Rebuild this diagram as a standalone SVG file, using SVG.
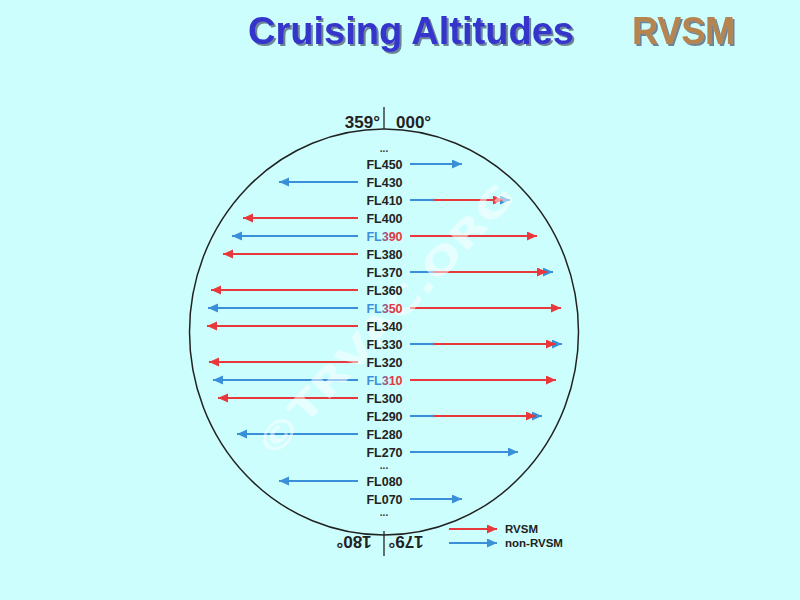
<svg xmlns="http://www.w3.org/2000/svg" width="800" height="600" viewBox="0 0 800 600">
<defs>
<style>
.fl{font-family:"Liberation Sans",Arial,sans-serif;font-weight:bold;font-size:12.5px;fill:#222;text-anchor:middle}
.dots{font-family:"Liberation Sans",Arial,sans-serif;font-weight:bold;font-size:10px;fill:#333;text-anchor:middle}
.deg{font-family:"Liberation Sans",Arial,sans-serif;font-weight:bold;font-size:17px;fill:#222}
.leg{font-family:"Liberation Sans",Arial,sans-serif;font-weight:bold;font-size:11.5px;fill:#222}
.r{stroke:#e8383c;stroke-width:2;fill:none;marker-end:url(#ahr)}
.b{stroke:#3a90d8;stroke-width:2;fill:none;marker-end:url(#ahb)}
.title{font-family:"Liberation Sans",Arial,sans-serif;font-weight:bold;font-size:38px;filter:url(#shadow)}
</style>
<filter id="shadow" x="-10%" y="-20%" width="120%" height="150%">
<feDropShadow dx="2" dy="2" stdDeviation="0.6" flood-color="#1a1a40" flood-opacity="0.55"/>
</filter>
<marker id="ahr" markerUnits="userSpaceOnUse" markerWidth="11" markerHeight="10" refX="10" refY="4.5" orient="auto"><path d="M0,0 L10,4.5 L0,9 Z" fill="#e8383c"/></marker>
<marker id="ahb" markerUnits="userSpaceOnUse" markerWidth="11" markerHeight="10" refX="10" refY="4.5" orient="auto"><path d="M0,0 L10,4.5 L0,9 Z" fill="#3a90d8"/></marker>
<linearGradient id="mix" x1="0" y1="0" x2="1" y2="0">
<stop offset="0" stop-color="#3a90d8"/><stop offset="0.38" stop-color="#3a90d8"/><stop offset="0.62" stop-color="#d8384c"/><stop offset="1" stop-color="#e8383c"/>
</linearGradient>
</defs>
<rect width="800" height="600" fill="#cdfefe"/>
<g id="title">
<text class="title" x="248" y="44" fill="#3434cc" textLength="326" lengthAdjust="spacingAndGlyphs">Cruising Altitudes</text>
<text class="title" x="632" y="44" fill="#b5844f" font-size="36" textLength="103" lengthAdjust="spacingAndGlyphs">RVSM</text>
</g>
<g id="compass">
<ellipse cx="384" cy="332" rx="194.5" ry="203" fill="none" stroke="#222" stroke-width="1.5"/>
<line x1="384" y1="107" x2="384" y2="129" stroke="#222" stroke-width="1.3"/>
<line x1="384" y1="531" x2="384" y2="556" stroke="#222" stroke-width="1.3"/>
<text class="deg" x="380" y="128" text-anchor="end">359°</text>
<text class="deg" x="396" y="128">000°</text>
<text class="deg" transform="rotate(180 354 542)" x="354" y="548" text-anchor="middle">180°</text>
<text class="deg" transform="rotate(180 406 542)" x="406" y="548" text-anchor="middle">179°</text>
</g>
<g id="connectors">
<line class="b" x1="410" y1="164" x2="462" y2="164"/>
<line class="b" x1="358" y1="182" x2="279" y2="182"/>
<line class="b" x1="410" y1="200" x2="510" y2="200"/>
<line class="r" x1="434" y1="200" x2="503" y2="200"/>
<line class="r" x1="358" y1="218" x2="243" y2="218"/>
<line class="b" x1="358" y1="236" x2="232" y2="236"/>
<line class="r" x1="410" y1="236" x2="537" y2="236"/>
<line class="r" x1="358" y1="254" x2="223" y2="254"/>
<line class="b" x1="410" y1="272" x2="553" y2="272"/>
<line class="r" x1="434" y1="272" x2="547" y2="272"/>
<line class="r" x1="358" y1="290" x2="211" y2="290"/>
<line class="b" x1="358" y1="308" x2="208" y2="308"/>
<line class="r" x1="410" y1="308" x2="561" y2="308"/>
<line class="r" x1="358" y1="326" x2="207" y2="326"/>
<line class="b" x1="410" y1="344" x2="562" y2="344"/>
<line class="r" x1="434" y1="344" x2="556" y2="344"/>
<line class="r" x1="358" y1="362" x2="209" y2="362"/>
<line class="b" x1="358" y1="380" x2="213" y2="380"/>
<line class="r" x1="410" y1="380" x2="556" y2="380"/>
<line class="r" x1="358" y1="398" x2="218" y2="398"/>
<line class="b" x1="410" y1="416" x2="542" y2="416"/>
<line class="r" x1="434" y1="416" x2="536" y2="416"/>
<line class="b" x1="358" y1="434" x2="237" y2="434"/>
<line class="b" x1="410" y1="452" x2="518" y2="452"/>
<line class="b" x1="358" y1="481" x2="279" y2="481"/>
<line class="b" x1="410" y1="499" x2="462" y2="499"/>
</g>
<g id="watermark" opacity="0.5">
<text x="384" y="334" transform="rotate(-47 384 320)" font-family="'DejaVu Sans',sans-serif" font-weight="bold" font-size="36" fill="#ffffff" text-anchor="middle" textLength="360" lengthAdjust="spacingAndGlyphs">©TRVAC.ORG</text>
</g>
<g id="levels">
<text class="dots" x="384" y="152">...</text>
<text class="fl" x="384.5" y="168.5">FL450</text>
<text class="fl" x="384.5" y="186.5">FL430</text>
<text class="fl" x="384.5" y="204.5">FL410</text>
<text class="fl" x="384.5" y="222.5">FL400</text>
<text class="fl" x="384.5" y="240.5" style="fill:url(#mix)">FL390</text>
<text class="fl" x="384.5" y="258.5">FL380</text>
<text class="fl" x="384.5" y="276.5">FL370</text>
<text class="fl" x="384.5" y="294.5">FL360</text>
<text class="fl" x="384.5" y="312.5" style="fill:url(#mix)">FL350</text>
<text class="fl" x="384.5" y="330.5">FL340</text>
<text class="fl" x="384.5" y="348.5">FL330</text>
<text class="fl" x="384.5" y="366.5">FL320</text>
<text class="fl" x="384.5" y="384.5" style="fill:url(#mix)">FL310</text>
<text class="fl" x="384.5" y="402.5">FL300</text>
<text class="fl" x="384.5" y="420.5">FL290</text>
<text class="fl" x="384.5" y="438.5">FL280</text>
<text class="fl" x="384.5" y="456.5">FL270</text>
<text class="dots" x="384" y="469">...</text>
<text class="fl" x="384.5" y="485.5">FL080</text>
<text class="fl" x="384.5" y="503.5">FL070</text>
<text class="dots" x="384" y="516">...</text>
</g>
<g id="legend">
<line class="r" x1="449" y1="529" x2="497" y2="529"/>
<line class="b" x1="449" y1="543" x2="497" y2="543"/>
<text class="leg" x="505" y="533">RVSM</text>
<text class="leg" x="505" y="547">non-RVSM</text>
</g>
</svg>
